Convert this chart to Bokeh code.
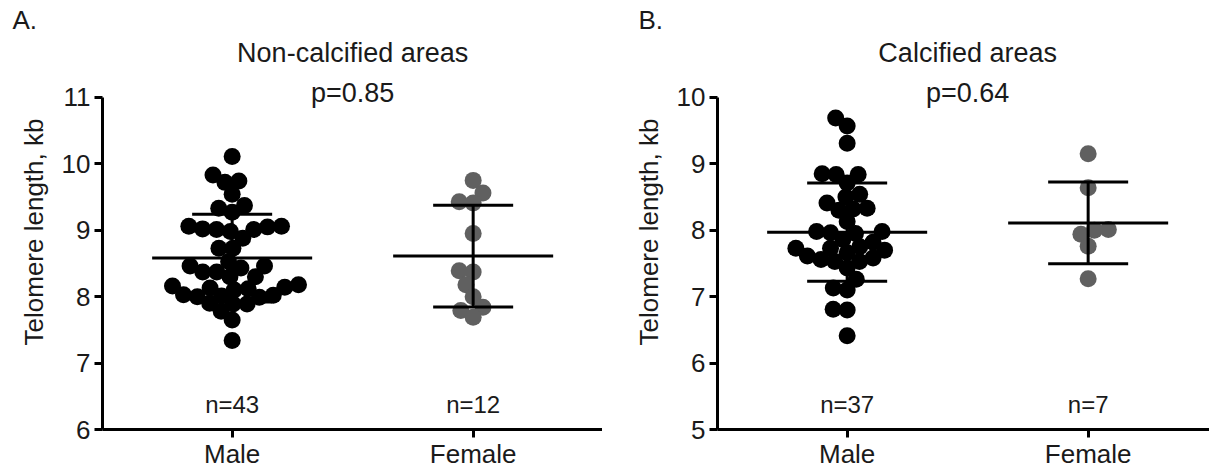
import numpy as np
from bokeh.plotting import figure
from bokeh.layouts import row
from bokeh.models import Range1d, FixedTicker, Title, Label
from bokeh.core.properties import value
from bokeh.embed import file_html
from bokeh.resources import INLINE

# ---------------- data ----------------
categories = ["Male", "Female"]

noncalc_male = [10.11, 9.83, 9.74, 9.72, 9.54, 9.37, 9.33, 9.27,
                9.01, 9.06, 9.05, 9.02, 8.98, 9.06, 9.01,
                8.88, 8.73, 8.73,
                8.53, 8.46, 8.37, 8.30, 8.30, 8.37, 8.43, 8.46,
                8.18, 8.12, 8.14, 8.10, 8.13, 8.16,
                8.03, 8.01, 8.00, 7.99, 8.02,
                7.89, 7.90, 7.89,
                7.78, 7.65, 7.34]
noncalc_female = [9.75, 9.56, 9.41, 9.43, 8.95, 8.37, 8.39, 8.18, 8.00, 7.84, 7.79, 7.69]

calc_male = [9.69, 9.57, 9.31,
             8.84, 8.84, 8.85, 8.71,
             8.54, 8.50,
             8.41, 8.32, 8.30, 8.33,
             8.13,
             7.98, 7.96, 7.95, 7.98, 7.86,
             7.75, 7.70, 7.66, 7.61, 7.73, 7.73, 7.82,
             7.43, 7.53, 7.53, 7.56, 7.58,
             7.26, 7.10, 7.13,
             6.81, 6.80, 6.41]
calc_female = [9.15, 8.64, 8.01, 7.94, 8.00, 7.76, 7.27]

noncalc_mean = [8.58, 8.61]
noncalc_sd = [0.66, 0.765]
calc_mean = [7.97, 8.11]
calc_sd = [0.74, 0.615]

panel_letters = ["A.", "B."]
panel_titles = ["Non-calcified areas", "Calcified areas"]
p_values = ["p=0.85", "p=0.64"]
y_ranges = [(6, 11), (5, 10)]
y_label = "Telomere length, kb"

# ---------------- style / layout ----------------
FONT = "Liberation Sans"
TXT = "#1a1a1a"
COLORS = ["#000000", "#606060"]
PX_X = 241.0            # pixels per category unit
PX_Y = 333.0 / 5.0      # pixels per kb
X0 = -0.538
HEIGHT = 471
B_TOP, B_BOTTOM = 34, 41
FRAME_H = HEIGHT - B_TOP - B_BOTTOM
AXIS_TOP_PX = 97        # page y of the top of the value axis
FRAME_BOTTOM_PX = HEIGHT - B_BOTTOM


def swarm(vals, d=14.0):
    vals = np.asarray(vals, float)
    order = np.argsort(vals, kind="stable")
    placed = []
    xs = np.zeros(len(vals))
    for i in order:
        y = vals[i] * PX_Y
        intervals = []
        for (px, py) in placed:
            dy = abs(py - y)
            if dy < d:
                w = np.sqrt(d * d - dy * dy)
                intervals.append((px - w, px + w))
        cands = [0.0] + [a for a, b in intervals] + [b for a, b in intervals]
        cands.sort(key=lambda c: (round(abs(c), 6), c))
        for c in cands:
            if all(not (a + 1e-9 < c < b - 1e-9) for a, b in intervals):
                xs[i] = c / PX_X
                placed.append((c, y))
                break
    return xs


def y_at(yr, page_y):
    return yr[0] + (FRAME_BOTTOM_PX - page_y) / PX_Y


def make_panel(groups, means, sds, yr, width, border_left, letter, title, pval,
               letter_dx):
    frame_w = width - border_left
    x_end = X0 + frame_w / PX_X
    y_top = yr[0] + FRAME_H / PX_Y
    p = figure(width=width, height=HEIGHT, x_range=Range1d(X0, x_end),
               y_range=Range1d(yr[0], y_top), output_backend="svg",
               toolbar_location=None,
               min_border_left=border_left, min_border_right=0,
               min_border_top=B_TOP, min_border_bottom=B_BOTTOM)
    p.outline_line_color = None
    p.xgrid.grid_line_color = None
    p.ygrid.grid_line_color = None
    p.background_fill_color = "white"

    for i, vals in enumerate(groups):
        xs = i + swarm(vals)
        p.scatter(x=xs, y=vals, size=17, fill_color=COLORS[i], line_color=None)

    idx = np.arange(len(groups))
    m = np.asarray(means)
    s = np.asarray(sds)
    kw = dict(line_color="black", line_width=3, line_cap="butt")
    p.segment(x0=idx - 0.332, x1=idx + 0.332, y0=m, y1=m, **kw)
    p.segment(x0=idx, x1=idx, y0=m - s, y1=m + s, **kw)
    p.segment(x0=idx - 0.166, x1=idx + 0.166, y0=m + s, y1=m + s, **kw)
    p.segment(x0=idx - 0.166, x1=idx + 0.166, y0=m - s, y1=m - s, **kw)

    p.text(x=idx, y=[yr[0] + 25 / PX_Y] * len(groups),
           text=[f"n={len(g)}" for g in groups], text_align="center",
           text_baseline="alphabetic", text_font=value(FONT),
           text_font_size="24px", text_color=TXT)

    # axes
    p.xaxis.ticker = FixedTicker(ticks=list(idx))
    p.xaxis.major_label_overrides = {int(i): c for i, c in enumerate(categories)}
    p.yaxis.ticker = FixedTicker(ticks=list(range(yr[0], yr[1] + 1)))
    p.yaxis.bounds = (yr[0], yr[1])
    for ax in (p.xaxis, p.yaxis):
        ax.axis_line_width = 3
        ax.axis_line_color = "black"
        ax.major_tick_line_width = 3
        ax.major_tick_line_color = "black"
        ax.major_tick_out = 8
        ax.major_tick_in = 0
        ax.minor_tick_line_color = None
        ax.major_label_text_font = FONT
        ax.major_label_text_font_size = "26px"
        ax.major_label_text_color = TXT
    p.xaxis.major_label_standoff = 1
    p.yaxis.major_label_standoff = 4
    p.yaxis.axis_label = y_label
    p.yaxis.axis_label_text_font = FONT
    p.yaxis.axis_label_text_font_size = "26px"
    p.yaxis.axis_label_text_font_style = "normal"
    p.yaxis.axis_label_text_color = TXT
    p.yaxis.axis_label_standoff = 10

    # heading texts inside the (extended) frame
    for txt, py in ((title, 53), (pval, 93)):
        p.add_layout(Label(x=0.5, y=y_at(yr, py), text=txt,
                           text_align="center", text_baseline="alphabetic",
                           text_font=FONT, text_font_size="27px",
                           text_color=TXT))
    # panel letter in the top border
    p.add_layout(Title(text=letter, align="left", offset=letter_dx, standoff=0,
                       text_font=FONT, text_font_size="26px",
                       text_font_style="normal", text_color=TXT), "above")
    return p


p1 = make_panel([noncalc_male, noncalc_female], noncalc_mean, noncalc_sd,
                y_ranges[0], 602, 102, panel_letters[0], panel_titles[0],
                p_values[0], -90)
p2 = make_panel([calc_male, calc_female], calc_mean, calc_sd,
                y_ranges[1], 607, 115, panel_letters[1], panel_titles[1],
                p_values[1], -79)

layout = row(p1, p2)
open("out.html", "w").write(file_html(layout, INLINE))
